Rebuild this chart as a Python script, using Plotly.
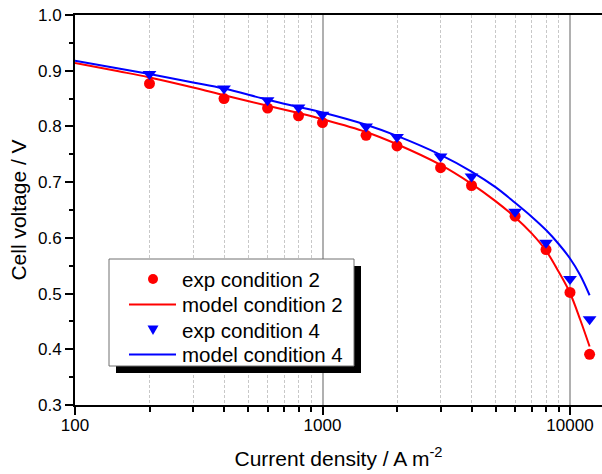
import plotly.graph_objects as go

# experimental data
exp_x = [200, 400, 600, 800, 1000, 1500, 2000, 3000, 4000, 6000, 8000, 10000, 12000]
exp_cond2 = [0.877, 0.850, 0.833, 0.819, 0.807, 0.784, 0.765, 0.726, 0.694, 0.639, 0.579, 0.502, 0.391]
exp_cond4 = [0.894, 0.868, 0.847, 0.834, 0.821, 0.800, 0.781, 0.746, 0.710, 0.647, 0.591, 0.526, 0.454]

# model curves
model_x = [100, 150, 200, 300, 400, 600, 800, 1000, 1500, 2000, 3000, 4000, 5000,
           6000, 7000, 8000, 9000, 10000, 11000, 12000]
model_cond2 = [0.914, 0.899, 0.888, 0.870, 0.856, 0.837, 0.824, 0.813, 0.790, 0.768,
               0.731, 0.697, 0.666, 0.637, 0.608, 0.577, 0.539, 0.501, 0.453, 0.405]
model_cond4 = [0.918, 0.904, 0.894, 0.879, 0.868, 0.848, 0.835, 0.825, 0.803, 0.783,
               0.749, 0.719, 0.691, 0.663, 0.638, 0.614, 0.589, 0.563, 0.533, 0.497]

x_major = [100, 1000, 10000]
x_major_labels = ["100", "1000", "10000"]
x_minor = [200, 300, 400, 500, 600, 700, 800, 900,
           2000, 3000, 4000, 5000, 6000, 7000, 8000, 9000]

legend_labels = ["exp condition 2", "model condition 2", "exp condition 4", "model condition 4"]

RED = "#ff0000"
BLUE = "#0000ff"
FONT = "Liberation Sans, Arial, sans-serif"

fig = go.Figure()
fig.add_trace(go.Scatter(x=exp_x, y=exp_cond2, mode="markers", name=legend_labels[0],
                         marker=dict(symbol="circle", size=11, color=RED)))
fig.add_trace(go.Scatter(x=model_x, y=model_cond2, mode="lines", name=legend_labels[1],
                         line=dict(color=RED, width=2, shape="spline")))
fig.add_trace(go.Scatter(x=exp_x, y=exp_cond4, mode="markers", name=legend_labels[2],
                         marker=dict(symbol="triangle-down", size=12, color=BLUE)))
fig.add_trace(go.Scatter(x=model_x, y=model_cond4, mode="lines", name=legend_labels[3],
                         line=dict(color=BLUE, width=2, shape="spline")))

L, R, T, B = 75, 0, 15, 69
W, H = 602, 474
pw = W - L - R
ph = H - T - B


def px_x(p):
    return (p - L) / pw


def px_y(p):
    return (H - B - p) / ph


# ---- hand-built legend (box with drop shadow) ----
box = (109, 259, 354, 366)
shadow_off = 7
fig.add_shape(type="rect", xref="paper", yref="paper",
              x0=px_x(box[0] + shadow_off), x1=px_x(box[2] + shadow_off),
              y0=px_y(box[3] + shadow_off), y1=px_y(box[1] + shadow_off),
              fillcolor="black", line=dict(width=0), layer="above")
fig.add_shape(type="rect", xref="paper", yref="paper",
              x0=px_x(box[0]), x1=px_x(box[2]), y0=px_y(box[3]), y1=px_y(box[1]),
              fillcolor="white", line=dict(color="#707070", width=1), layer="above")

row_y = [279, 304.5, 330, 354.5]
sym_cx = 153
line_x0, line_x1 = 129, 176
text_x = 180

# row 1: red circle
fig.add_shape(type="circle", xref="paper", yref="paper",
              xsizemode="pixel", ysizemode="pixel",
              xanchor=px_x(sym_cx), yanchor=px_y(row_y[0]),
              x0=-5, x1=5, y0=-5, y1=5,
              fillcolor=RED, line=dict(width=0), layer="above")
# row 2: red line
fig.add_shape(type="line", xref="paper", yref="paper",
              x0=px_x(line_x0), x1=px_x(line_x1), y0=px_y(row_y[1]), y1=px_y(row_y[1]),
              line=dict(color=RED, width=2), layer="above")
# row 3: blue down triangle
fig.add_shape(type="path", xref="paper", yref="paper",
              xsizemode="pixel", ysizemode="pixel",
              xanchor=px_x(sym_cx), yanchor=px_y(row_y[2]),
              path="M-5.5,4.5 L5.5,4.5 L0,-5 Z",
              fillcolor=BLUE, line=dict(width=0), layer="above")
# row 4: blue line
fig.add_shape(type="line", xref="paper", yref="paper",
              x0=px_x(line_x0), x1=px_x(line_x1), y0=px_y(row_y[3]), y1=px_y(row_y[3]),
              line=dict(color=BLUE, width=2), layer="above")

for lbl, ry in zip(legend_labels, row_y):
    fig.add_annotation(text=lbl, xref="paper", yref="paper",
                       x=px_x(text_x), y=px_y(ry), xanchor="left", yanchor="middle",
                       showarrow=False, font=dict(size=20.5, family=FONT, color="black"))

fig.update_layout(
    width=W, height=H,
    margin=dict(l=L, r=R, t=T, b=B, pad=0),
    paper_bgcolor="white", plot_bgcolor="white",
    font=dict(family=FONT, size=17, color="black"),
    showlegend=False,
    xaxis=dict(
        type="log", range=[2, 2 + pw / 247.5],
        tickmode="array", tickvals=x_major, ticktext=x_major_labels,
        ticks="outside", ticklen=8, tickwidth=1.5, tickcolor="black",
        ticklabelstandoff=-4,
        showline=True, linecolor="black", linewidth=2, mirror=True,
        showgrid=True, gridcolor="#b0b0b0", gridwidth=2,
        zeroline=False,
        minor=dict(tickmode="array", tickvals=x_minor, ticks="outside", ticklen=5,
                   tickwidth=1.5, tickcolor="black",
                   showgrid=True, gridcolor="#c8c8c8", griddash="3px,2px", gridwidth=1),
        tickfont=dict(size=17),
        title=dict(text="Current density / A m<sup>-2</sup>", font=dict(size=21), standoff=17),
    ),
    yaxis=dict(
        range=[0.3, 1.0], tickmode="linear", tick0=0.3, dtick=0.1, tickformat=".1f",
        ticks="outside", ticklen=8, tickwidth=1.5, tickcolor="black",
        showline=True, linecolor="black", linewidth=2, mirror=False,
        showgrid=False, zeroline=False,
        minor=dict(dtick=0.05, ticks="outside", ticklen=4, tickwidth=1.5, tickcolor="black",
                   showgrid=False),
        tickfont=dict(size=17),
        title=dict(text="Cell voltage / V", font=dict(size=21), standoff=6),
    ),
)

fig.write_html("out.html")
